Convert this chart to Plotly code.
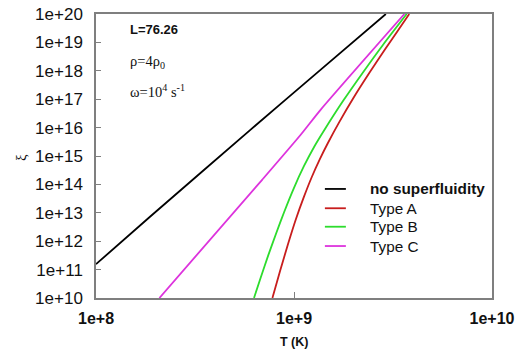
import plotly.graph_objects as go

# ---- data ----
black_T = [1e8, 1.88e8, 6.04e8, 1.365e9, 2.91e9]
black_xi = [1.55e11, 7.4e12, 8.5e15, 1.1e18, 1e20]

typeA_T = [7.78e8, 8.51e8, 9.33e8, 1.023e9, 1.122e9, 1.230e9, 1.349e9, 1.479e9, 1.698e9,
           1.995e9, 2.399e9, 2.884e9, 3.311e9, 3.819e9]
typeA_xi = [1e10, 9.12e10, 7.94e11, 6.03e12, 3.63e13, 1.82e14, 7.59e14, 2.75e15, 1.62e16,
            1.10e17, 8.32e17, 5.75e18, 2.34e19, 1e20]

typeB_T = [6.28e8, 6.76e8, 7.41e8, 8.13e8, 8.91e8, 1.0e9, 1.122e9, 1.259e9, 1.413e9,
           1.778e9, 2.239e9, 2.818e9, 3.707e9]
typeB_xi = [1e10, 4.79e10, 3.16e11, 1.91e12, 1.05e13, 7.59e13, 4.37e14, 2.00e15, 7.59e15,
            9.12e16, 9.12e17, 8.32e18, 1e20]

typeC_T = [2.09e8, 6.92e8, 1.081e9, 1.365e9, 3.61e9]
typeC_xi = [1e10, 1.48e14, 5.6e15, 4.3e16, 1e20]

series_names = ["<b>no superfluidity</b>", "Type A", "Type B", "Type C"]
series_colors = ["#000000", "#c81d1d", "#2ddc2d", "#dd33dd"]

x_tickvals = [1e8, 1e9, 1e10]
x_ticktext = ["1e+8", "1e+9", "1e+10"]
y_tickvals = [10.0 ** k for k in range(10, 21)]
y_ticktext = ["1e+%d" % k for k in range(10, 21)]

fig = go.Figure()
data = [(black_T, black_xi), (typeA_T, typeA_xi), (typeB_T, typeB_xi), (typeC_T, typeC_xi)]
for (t, xi), name, col in zip(data, series_names, series_colors):
    fig.add_trace(go.Scatter(
        x=t, y=xi, mode="lines", name=name, showlegend=False,
        line=dict(color=col, width=1.8, shape="spline", smoothing=0.6),
    ))

frame_col = "#7f7f7f"
fig.update_xaxes(
    type="log", range=[8, 10], automargin=False,
    tickvals=x_tickvals, ticktext=x_ticktext,
    ticks="inside", ticklen=6, tickcolor=frame_col, tickwidth=1,
    showline=True, linecolor=frame_col, linewidth=1.5, mirror=True,
    showgrid=False, zeroline=False,
    tickfont=dict(family="Liberation Sans", size=16, color="#111111", weight="bold"),
    ticklabelstandoff=5, ticklabeloverflow="allow",
)
fig.update_yaxes(
    type="log", range=[10, 20], automargin=False,
    tickvals=y_tickvals, ticktext=y_ticktext,
    ticks="inside", ticklen=5, tickcolor=frame_col, tickwidth=1,
    showline=True, linecolor=frame_col, linewidth=1.5, mirror=True,
    showgrid=False, zeroline=False,
    tickfont=dict(family="Liberation Sans", size=17, color="#111111"),
    ticklabelstandoff=8, ticklabeloverflow="allow",
)

# axis titles
fig.add_annotation(x=0.5, y=-0.154, xref="paper", yref="paper", showarrow=False,
                   xanchor="center", yanchor="middle",
                   text="<b>T (K)</b>", font=dict(family="Liberation Sans", size=12.5, color="#111111"))
fig.add_annotation(x=-0.19, y=0.496, xref="paper", yref="paper", showarrow=False, textangle=-90,
                   xanchor="center", yanchor="middle",
                   text="ξ", font=dict(family="Liberation Serif", size=15, color="#111111"))

# parameter labels (left aligned)
ann_font = dict(family="Liberation Serif", size=14.5, color="#111111")
fig.add_annotation(x=0.08, y=0.944, xref="paper", yref="paper", showarrow=False,
                   xanchor="left", yanchor="middle",
                   text="<b>L=76.26</b>", font=dict(family="Liberation Sans", size=13, color="#111111"))
fig.add_annotation(x=0.08, y=0.831, xref="paper", yref="paper", showarrow=False,
                   xanchor="left", yanchor="middle",
                   text="ρ=4ρ<sub>0</sub>", font=ann_font)
fig.add_annotation(x=0.08, y=0.729, xref="paper", yref="paper", showarrow=False,
                   xanchor="left", yanchor="middle",
                   text="ω=10<sup>4</sup> s<sup>-1</sup>", font=ann_font)

# legend (drawn as key lines + labels)
legend_rows_y = [0.384, 0.316, 0.251, 0.183]
for name, col, yy in zip(series_names, series_colors, legend_rows_y):
    fig.add_shape(type="line", xref="paper", yref="paper", x0=0.578, x1=0.631, y0=yy, y1=yy,
                  line=dict(color=col, width=1.8))
    fig.add_annotation(x=0.688, y=yy, xref="paper", yref="paper", showarrow=False,
                       xanchor="left", yanchor="middle", text=name,
                       font=dict(family="Liberation Sans", size=15.3, color="#111111"))

fig.update_layout(
    width=521, height=351,
    margin=dict(l=96, r=29, t=14, b=53),
    paper_bgcolor="white", plot_bgcolor="white",
    showlegend=False,
)

fig.write_html("out.html", config={"displayModeBar": False},
               post_script="document.body.style.margin='0';")
